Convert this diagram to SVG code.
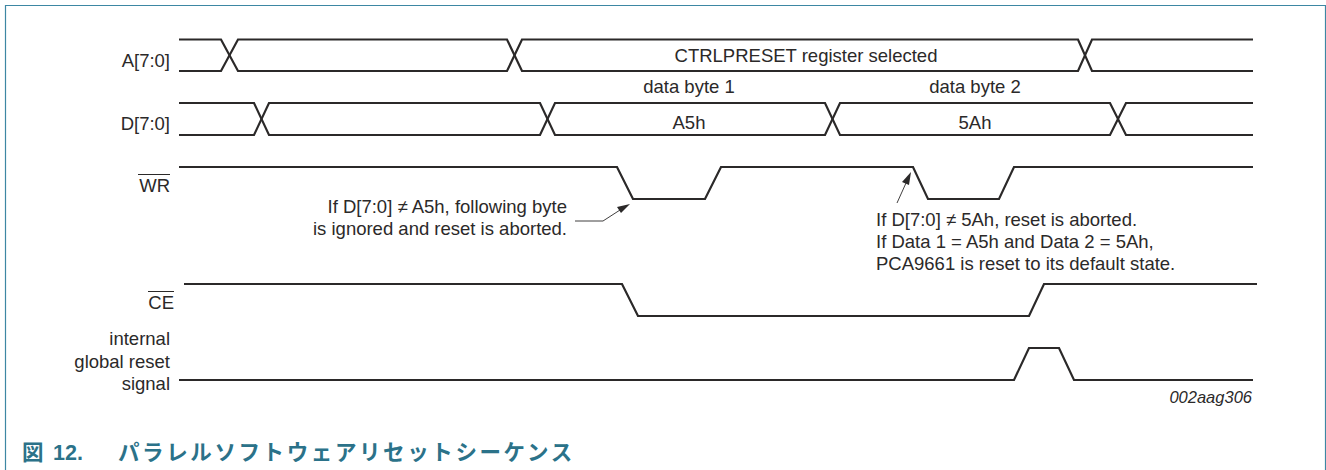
<svg xmlns="http://www.w3.org/2000/svg" width="1326" height="470" viewBox="0 0 1326 470">
<style>
.sig{fill:none;stroke:#2b2929;stroke-width:2.2;stroke-linejoin:miter}
.ldr{fill:none;stroke:#2b2929;stroke-width:0.9}
.ah{fill:#2b2929;stroke:none}
text{font-family:"Liberation Sans",Arial,sans-serif;font-size:18.5px;fill:#2b2929}
.r{text-anchor:end}
.m{text-anchor:middle}
.bar{stroke:#2b2929;stroke-width:1;fill:none}
.ttl{font-family:"Liberation Sans","Noto Sans CJK JP",sans-serif;font-weight:bold;font-size:21.5px;fill:#2b7289}
</style>
<rect width="1326" height="470" fill="#fff"/>
<path d="M5.5 470V5.5H1325.5V470" fill="none" stroke="#3d87a3" stroke-width="1.2"/>
<g id="connectors">
<path class="sig" d="M179 39.500H221L238 71H507L522 39.500H1078L1092 71H1253"/>
<path class="sig" d="M179 71H221L238 39.500H507L522 71H1078L1092 39.500H1253"/>
<path class="sig" d="M179 103H254L269 135H540L555 103H825L840 135H1110L1126 103H1253"/>
<path class="sig" d="M179 135H254L269 103H540L555 135H825L840 103H1110L1126 135H1253"/>
<path class="sig" d="M179 167H617L633 199H705L721 167H913L928 199H999L1014 167H1253"/>
<path class="sig" d="M184 284H622L638 316H1029L1044 284H1257"/>
<path class="sig" d="M179 380H1014L1029 348H1059L1074 380H1253"/>
<path class="ldr" d="M575 221H603L620 210"/>
<path class="ah" d="M630 204L617 207L621 213Z"/>
<path class="ldr" d="M897 203L906 183"/>
<path class="ah" d="M911 172L902 182L909 185Z"/>
</g>
<g id="sig-a"><text class="r" x="170" y="67">A[7:0]</text><text class="m" x="806" y="62">CTRLPRESET register selected</text></g>
<g id="sig-d"><text class="r" x="170" y="130">D[7:0]</text><text class="m" x="689" y="93">data byte 1</text><text class="m" x="975" y="93">data byte 2</text><text class="m" x="689" y="129">A5h</text><text class="m" x="975" y="129">5Ah</text></g>
<g id="sig-wr"><text class="r" x="170" y="192">WR</text><path class="bar" d="M138 174.500H170"/>
<text class="r" x="567" y="213">If D[7:0] ≠ A5h, following byte</text><text class="r" x="567" y="235">is ignored and reset is aborted.</text>
<text x="876" y="226">If D[7:0] ≠ 5Ah, reset is aborted.</text><text x="876" y="248">If Data 1 = A5h and Data 2 = 5Ah,</text><text x="876" y="270">PCA9661 is reset to its default state.</text></g>
<g id="sig-ce"><text class="r" x="174" y="309">CE</text><path class="bar" d="M148 291.500H174"/></g>
<g id="sig-reset"><text class="r" x="170" y="345">internal</text><text class="r" x="170" y="368">global reset</text><text class="r" x="170" y="390">signal</text></g>
<text id="ref" x="1252" y="403" text-anchor="end" style="font-size:16.500px;font-style:italic">002aag306</text>
<text id="title" class="ttl" x="22" y="460">図<tspan x="53">12.</tspan><tspan x="118" letter-spacing="2.6">パラレルソフトウェアリセットシーケンス</tspan></text>
</svg>
